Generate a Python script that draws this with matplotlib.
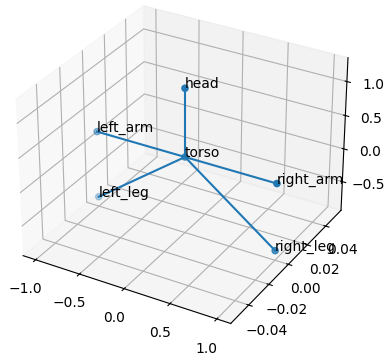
from matplotlib import pyplot as plt

# joints of the skeleton
names = ['torso', 'head', 'left_arm', 'right_arm', 'left_leg', 'right_leg']
xs = [0, 0, -1, 1, -1, 1]
ys = [0, 0, 0, 0, 0, 0]
zs = [0.2, 1.2, 0.2, 0.2, -0.8, -0.8]

# pairs of joints joined by a line
bones = [(0, 1), (0, 2), (0, 3), (0, 4), (0, 5)]

fig = plt.figure(figsize=(3.91, 3.6), dpi=100)
ax = fig.add_subplot(projection='3d')
ax.set_position([(180 - 248) / 391, (198 - 184.8) / 360, 496 / 391, 369.6 / 360])

ax.scatter(xs, ys, zs)

for a, b in bones:
    ax.plot([xs[a], xs[b]], [ys[a], ys[b]], [zs[a], zs[b]], color='C0')

for name, x, y, z in zip(names, xs, ys, zs):
    ax.text(x, y, z, name)

plt.savefig('out.png', dpi=100)
